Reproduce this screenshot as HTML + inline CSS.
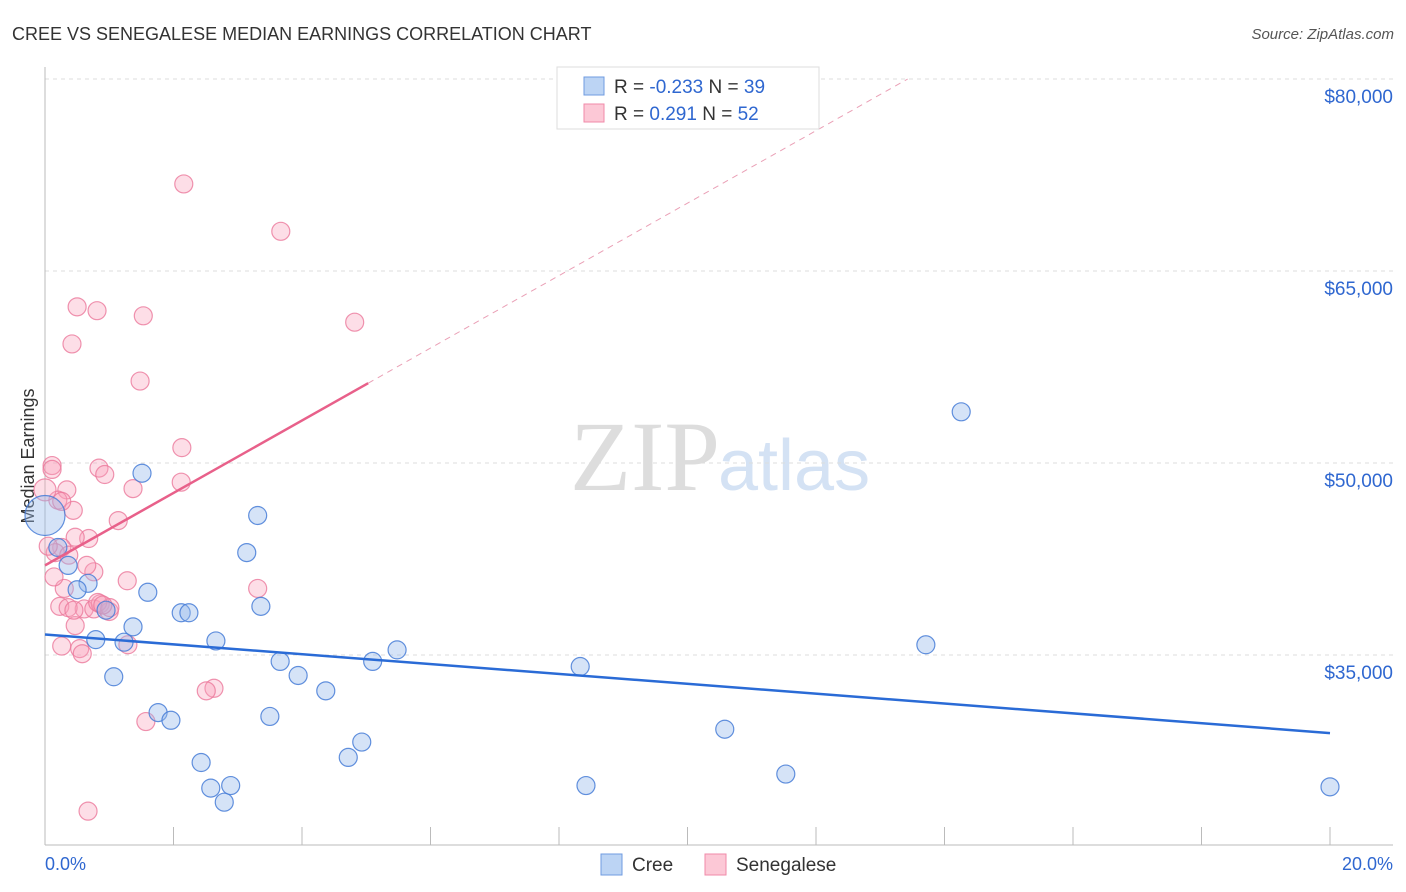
<!DOCTYPE html>
<html><head><meta charset="utf-8"><style>
body{margin:0;background:#fff;font-family:"Liberation Sans",sans-serif}
svg{display:block}
</style></head><body>
<svg id="c" width="1406" height="892">
<text x="12" y="40" font-size="18" fill="#333">CREE VS SENEGALESE MEDIAN EARNINGS CORRELATION CHART</text>
<text x="1394" y="39" font-size="15" fill="#555" font-style="italic" text-anchor="end">Source: ZipAtlas.com</text>
<text x="720" y="490" font-size="100" fill="#ddd" text-anchor="end" font-family="Liberation Serif">ZIP</text>
<text x="718" y="490" font-size="72" fill="#d4e2f4">atlas</text>
<text transform="translate(34,456) rotate(-90)" font-size="18" fill="#333" text-anchor="middle">Median Earnings</text>
<g id="grid"></g><g id="pts"></g><g id="lines"></g>
<g>
<rect x="557" y="67" width="262" height="62" fill="#fff" stroke="#ddd"/>
<rect x="584" y="77" width="20" height="18" fill="#bcd4f4" stroke="#6f9be0"/>
<rect x="584" y="104" width="20" height="18" fill="#fcc8d6" stroke="#f08aa8"/>
<text x="614" y="93" font-size="19" fill="#333">R = <tspan fill="#2f67d0">-0.233</tspan>   N = <tspan fill="#2f67d0">39</tspan></text>
<text x="614" y="120" font-size="19" fill="#333">R =    <tspan fill="#2f67d0">0.291</tspan>   N = <tspan fill="#2f67d0">52</tspan></text>
</g>
<g>
<rect x="601" y="854" width="21" height="21" fill="#bcd4f4" stroke="#6f9be0"/>
<text x="632" y="871" font-size="19" fill="#333">Cree</text>
<rect x="705" y="854" width="21" height="21" fill="#fcc8d6" stroke="#f08aa8"/>
<text x="736" y="871" font-size="19" fill="#333">Senegalese</text>
</g>
<text x="45" y="870" font-size="18" fill="#2f67d0">0.0%</text>
<text x="1393" y="870" font-size="18" fill="#2f67d0" text-anchor="end">20.0%</text>
</svg>
<script>
const yTicks=[80000,65000,50000,35000];
const yTickLabels=["$80,000","$65,000","$50,000","$35,000"];
const creeX=[1.51,3.31,3.14,0.79,1.23,1.07,1.60,1.37,2.12,2.24,2.66,1.76,1.96,2.43,2.58,2.89,2.79,3.36,3.66,3.94,4.37,3.50,5.10,5.48,4.93,4.72,8.33,10.58,8.42,11.53,13.71,14.26,20.0,0.67,0.50,0.36,0.20,0.95,0];
const creeY=[49.2,45.9,43.0,36.2,36.0,33.3,39.9,37.2,38.3,38.3,36.1,30.5,29.9,26.6,24.6,24.8,23.5,38.8,34.5,33.4,32.2,30.2,34.5,35.4,28.2,27.0,34.1,29.2,24.8,25.7,35.8,54.0,24.7,40.6,40.1,42.0,43.4,38.5,45.9];
const senX=[2.16,3.67,0.50,0.81,1.53,4.82,0.42,1.48,2.13,0.11,0.84,0.93,2.12,1.37,0.34,0.20,0.44,0,1.14,0.68,0.47,0.26,0.16,0.37,1.28,0.76,0.30,0.65,3.31,0.23,0.61,0.76,0.86,1.00,0.47,0.26,0.54,0.58,1.29,2.63,2.51,1.57,0.67,0.14,0.82,0.36,1.01,0.11,0.26,0.05,0.45,0.9];
const senY=[71.8,68.1,62.2,61.9,61.5,61.0,59.3,56.4,51.2,49.8,49.6,49.1,48.5,48.0,47.9,47.1,46.3,47.9,45.5,44.1,44.2,43.4,43.0,42.8,40.8,41.5,40.2,42.0,40.2,38.8,38.6,38.6,39.0,38.4,37.3,35.7,35.5,35.1,35.8,32.4,32.2,29.8,22.8,41.1,39.1,38.7,38.7,49.5,47.0,43.5,38.5,38.9];
const creeTrend=[36.6,28.9];
const senTrend=[42.0,2.83];
const X=p=>45+p*64.25, Y=k=>79+(80-k)*12.8;
const NS="http://www.w3.org/2000/svg";
function mk(t,a,par){const e=document.createElementNS(NS,t);for(const k in a)e.setAttribute(k,a[k]);document.getElementById(par).appendChild(e);return e;}
yTicks.forEach((v,i)=>{
 const l=mk('line',{x1:45,x2:1393,y1:Y(v/1000),y2:Y(v/1000),stroke:'#ddd','stroke-dasharray':'4,4'},'grid');
 
 
 const t=mk('text',{x:1393,y:Y(v/1000)+24,'font-size':19,fill:'#2f67d0','text-anchor':'end'},'grid');
 t.textContent=yTickLabels[i];
 
 
});
mk('line',{x1:45,x2:45,y1:67,y2:845,stroke:'#bbb'},'grid');
mk('line',{x1:45,x2:1393,y1:845,y2:845,stroke:'#bbb'},'grid');
for(let p=2;p<=20;p+=2){const t=mk('line',{x1:X(p),x2:X(p),y1:827,y2:845,stroke:'#bbb'},'grid');
 
 }
senX.forEach((x,i)=>{const c=mk('circle',{cx:X(x),cy:Y(senY[i]),r:x===0?11:9,fill:'rgba(248,160,185,0.35)',stroke:'rgba(235,120,155,0.8)','stroke-width':1.2},'pts');
 
 });
creeX.forEach((x,i)=>{const c=mk('circle',{cx:X(x),cy:Y(creeY[i]),r:(x===0?20:9),fill:'rgba(150,185,235,0.4)',stroke:'rgba(70,125,215,0.85)','stroke-width':1.2},'pts');
 
 });
let l=mk('line',{x1:X(0),y1:Y(creeTrend[0]),x2:X(20),y2:Y(creeTrend[1]),stroke:'#2a6bd6','stroke-width':2.5},'lines');


const xEnd=5.03, xDash=(80-senTrend[0])/senTrend[1];
l=mk('line',{x1:X(0),y1:Y(senTrend[0]),x2:X(xEnd),y2:Y(senTrend[0]+senTrend[1]*xEnd),stroke:'#e8608a','stroke-width':2.5},'lines');


l=mk('line',{x1:X(xEnd),y1:Y(senTrend[0]+senTrend[1]*xEnd),x2:X(xDash),y2:Y(80),stroke:'#eaa0b6','stroke-width':1,'stroke-dasharray':'6,5'},'lines');


</script>
</body></html>
